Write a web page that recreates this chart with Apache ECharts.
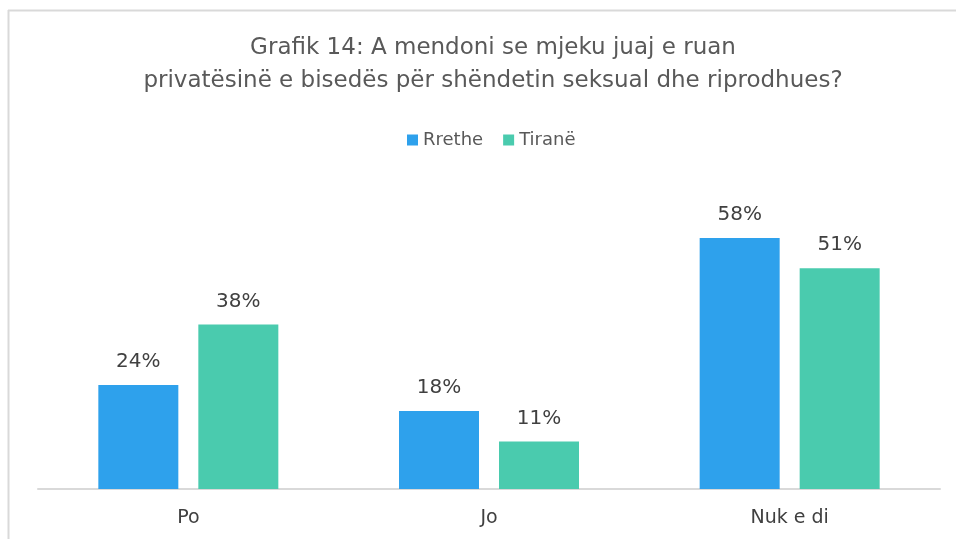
<!DOCTYPE html>
<html><head><meta charset="utf-8">
<script src="https://cdn.jsdelivr.net/npm/echarts@6/dist/echarts.min.js"></script>
<style>html,body{margin:0;padding:0;background:#fff}#c{width:956px;height:539px}</style>
</head><body><div id="c"></div>
<script>
const titleText = "Grafik 14: A mendoni se mjeku juaj e ruan\nprivatësinë e bisedës për shëndetin seksual dhe riprodhues?";
const categories = ["Po", "Jo", "Nuk e di"];
const seriesNames = ["Rrethe", "Tiranë"];
const rretheValues = [24, 18, 58];
const tiraneValues = [38, 11, 51];
const colors = ["#2EA1EC", "#4ACBAE"];
const FONT = "'DejaVu Sans', sans-serif";
const chart = echarts.init(document.getElementById('c'));
chart.setOption({
  animation: false,
  backgroundColor: '#fff',
  title: {
    text: titleText, left: 488, textAlign: 'center', top: 27,
    textStyle: { fontFamily: FONT, fontSize: 23, fontWeight: 'normal', color: '#595959', lineHeight: 33 }
  },
  legend: {
    data: seriesNames, top: 126, left: 402, itemWidth: 11, itemHeight: 11, itemGap: 20,
    icon: 'rect', textStyle: { fontFamily: FONT, fontSize: 18, color: '#595959' }
  },
  graphic: [
    { type: 'line', shape: { x1: 8.5, y1: 10, x2: 8.5, y2: 539 }, style: { stroke: '#d9d9d9', lineWidth: 2 } },
    { type: 'line', shape: { x1: 8, y1: 10.5, x2: 956, y2: 10.5 }, style: { stroke: '#d9d9d9', lineWidth: 2 } }
  ],
  grid: { left: 38, right: 16, top: 186, bottom: 50, containLabel: false },
  xAxis: {
    type: 'category', data: categories,
    axisLine: { lineStyle: { color: '#d9d9d9', width: 2 } },
    axisTick: { show: false },
    axisLabel: { fontFamily: FONT, fontSize: 19, color: '#404040', margin: 20 }
  },
  yAxis: { type: 'value', min: 0, max: 70, show: false, splitLine: { show: false } },
  series: [
    { name: seriesNames[0], type: 'bar', data: rretheValues, barWidth: 80, barGap: '25%',
      itemStyle: { color: colors[0] },
      label: { show: true, position: 'top', distance: 13, formatter: '{c}%', fontFamily: FONT, fontSize: 20, color: '#404040' } },
    { name: seriesNames[1], type: 'bar', data: tiraneValues, barWidth: 80,
      itemStyle: { color: colors[1] },
      label: { show: true, position: 'top', distance: 13, formatter: '{c}%', fontFamily: FONT, fontSize: 20, color: '#404040' } }
  ]
});
</script></body></html>
